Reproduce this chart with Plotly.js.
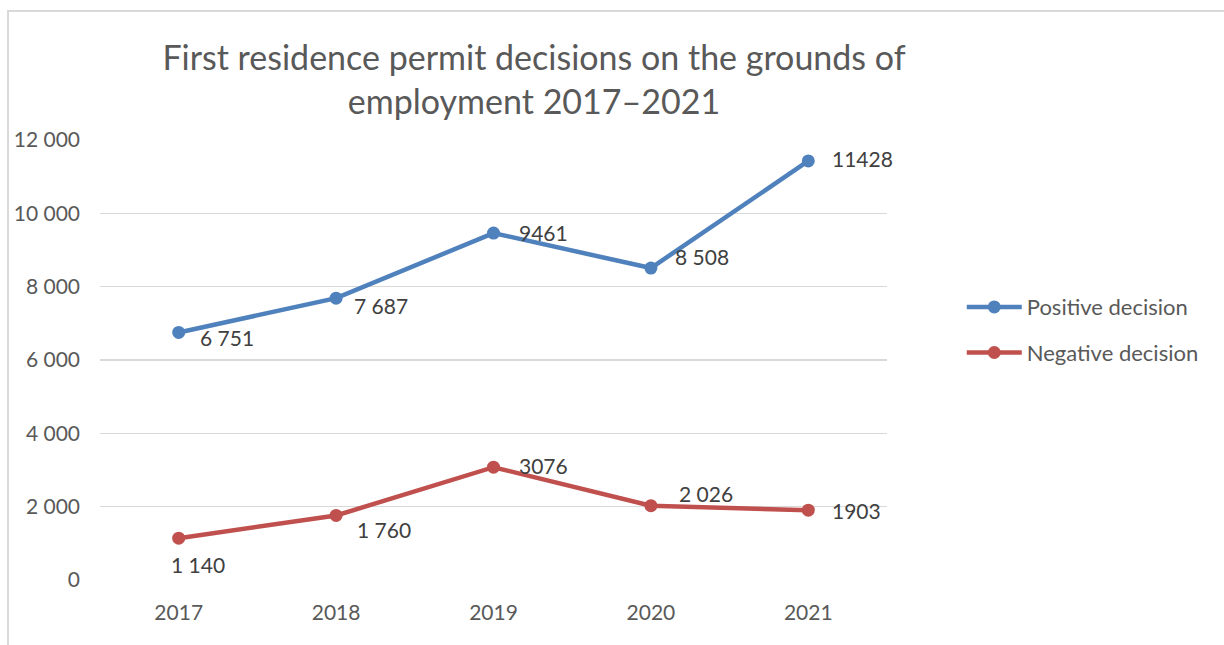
<!DOCTYPE html>
<html>
<head>
<meta charset="utf-8">
<script src="https://cdn.plot.ly/plotly-3.0.1.min.js"></script>
<style>
html,body{margin:0;padding:0;background:#fff;}
#frame{position:absolute;left:7px;top:10px;width:1400px;height:800px;border-left:2px solid #d9d9d9;border-top:2px solid #d9d9d9;}
#chart{position:absolute;left:0;top:0;width:1224px;height:645px;}
</style>
</head>
<body>
<div id="frame"></div>
<div id="chart"></div>
<script>
const years = ['2017', '2018', '2019', '2020', '2021'];
const positive = [6751, 7687, 9461, 8508, 11428];
const negative = [1140, 1760, 3076, 2026, 1903];
const positiveLabels = ['6 751', '7 687', '9461', '8 508', '11428'];
const negativeLabels = ['1 140', '1 760', '3076', '2 026', '1903'];
const seriesNames = ['Positive decision', 'Negative decision'];
const yTicks = [0, 2000, 4000, 6000, 8000, 10000, 12000];

// label offsets (pixels) relative to the marker
const posDx = [19, 16, 23, 22, 22];
const posDy = [5, 7, -1, -12, -2];
const negDx = [-10, 19, 23, 26, 22];
const negDy = [26, 14, -2, -12, 0];

const blue = '#4f81bd';
const red = '#c0504d';
const FONT = 'Lato, "Open Sans", sans-serif';

function trace(y, name, color, group) {
  return {
    x: years, y: y, name: name, type: 'scatter', mode: 'lines+markers',
    line: {color: color, width: 4.5},
    marker: {color: color, size: 13},
    legendgroup: group,
    hoverinfo: 'skip'
  };
}

const annotations = [];
function addLabels(vals, labels, dx, dy) {
  vals.forEach((v, i) => {
    annotations.push({
      x: i, y: v, xref: 'x', yref: 'y', text: labels[i], showarrow: false,
      xanchor: 'left', yanchor: 'middle', xshift: dx[i], yshift: -dy[i],
      font: {family: FONT, size: 21, color: '#404040'}
    });
  });
}
addLabels(positive, positiveLabels, posDx, posDy);
addLabels(negative, negativeLabels, negDx, negDy);

const layout = {
  width: 1224, height: 645,
  margin: {l: 100, r: 337, t: 140, b: 65, autoexpand: false},
  paper_bgcolor: 'rgba(0,0,0,0)', plot_bgcolor: 'rgba(0,0,0,0)',
  separators: ', ',
  font: {family: FONT, color: '#595959', size: 21},
  title: {
    text: 'First residence permit decisions on the grounds of<br>employment 2017–2021',
    x: (534 - 100) / 787, xref: 'paper', xanchor: 'center',
    y: 1 - 70 / 645, yref: 'container', yanchor: 'middle',
    font: {family: FONT, size: 34, color: '#595959'}
  },
  xaxis: {
    type: 'category', range: [-0.5, 4.5], showgrid: false, zeroline: false,
    showline: false, ticks: '', tickfont: {size: 21, color: '#595959'},
    ticklabelstandoff: 18, fixedrange: true
  },
  yaxis: {
    range: [0, 12000], tickvals: yTicks, tickformat: ',', showgrid: true,
    gridcolor: '#d9d9d9', gridwidth: 1.5, zeroline: false, showline: false,
    ticks: '', tickfont: {size: 21, color: '#595959'}, ticklabelstandoff: 19,
    fixedrange: true
  },
  showlegend: true,
  legend: {
    x: 1.095, xanchor: 'left', y: 0.568, yanchor: 'middle',
    font: {size: 22, color: '#595959', family: FONT},
    itemwidth: 55, tracegroupgap: 14, bgcolor: 'rgba(0,0,0,0)',
    traceorder: 'grouped'
  },
  annotations: annotations
};

Plotly.newPlot('chart', [
  trace(positive, seriesNames[0], blue, 'g1'),
  trace(negative, seriesNames[1], red, 'g2')
], layout, {displayModeBar: false, staticPlot: true});
</script>
</body>
</html>
